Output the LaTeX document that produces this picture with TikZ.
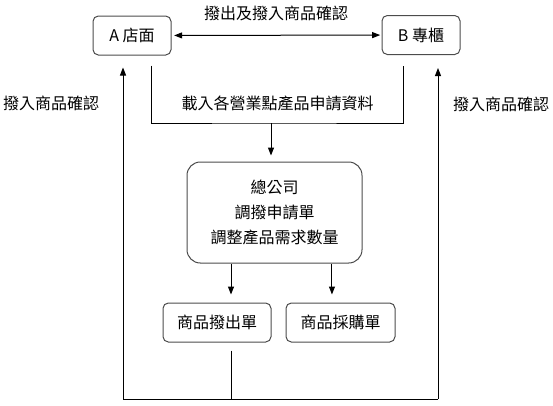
\documentclass[tikz,border=0pt]{standalone}
\usepackage{fontspec}
\setmainfont{Noto Sans CJK TC}
\usepackage{tikz}
\usetikzlibrary{arrows.meta,positioning,calc}

\begin{document}
\begin{tikzpicture}[x=0.75pt, y=-0.75pt, font=\fontsize{12}{14}\selectfont,
    box/.style={rectangle, draw=black!70, line width=0.75pt, rounded corners=4pt, minimum height=29.25pt, inner sep=0pt},
    link/.style={draw, line width=0.75pt},
    arrow/.style={link, -{Triangle[length=6pt, width=4.5pt]}},
    biarrow/.style={link, {Triangle[length=6pt, width=4.5pt]}-{Triangle[length=6pt, width=4.5pt]}}]
    \useasboundingbox (0,0) rectangle (553,405);

    \node[box, minimum width=58.5pt] (storeA) at (132,35.5) {A 店面};
    \node[box, minimum width=58.5pt] (counterB) at (421,35) {B 專櫃};
    \node[box, rounded corners=10pt, minimum width=131.25pt, minimum height=75.75pt, align=center,
          font=\fontsize{12}{18.75}\selectfont] (hq) at (274.5,212.5) {總公司\\調撥申請單\\調整產品需求數量};
    \node[box, minimum width=81pt] (outSlip) at (217,322.5) {商品撥出單};
    \node[box, minimum width=81.75pt] (buySlip) at (340.5,322.5) {商品採購單};

    % Labels
    \node (swapLbl) at (276,13) {撥出及撥入商品確認};
    \node (loadLbl) at (277.5,103) {載入各營業點產品申請資料};
    \node (inLblA) at (51,103) {撥入商品確認};
    \node (inLblB) at (501,104) {撥入商品確認};

    % Top exchange
    \draw[biarrow, shorten <=2pt, shorten >=1pt] (storeA) -- (counterB);

    % Requests to head office
    \coordinate (gather) at (271,123);
    \draw[link] ([xshift=14.25pt, yshift=-7.5pt]storeA.south) |- (gather)
        -| ([xshift=-13.5pt, yshift=-8.25pt]counterB.south);
    \draw[arrow, shorten >=4.5pt] (gather) -- (hq.north -| gather);

    % Head office to slips
    \coordinate (outTop) at ([xshift=10.5pt]outSlip.north);
    \coordinate (buyTop) at ([xshift=-6.4pt]buySlip.north);
    \draw[arrow, shorten >=6pt] (hq.south -| outTop) -- (outTop);
    \draw[arrow, shorten >=6pt] (hq.south -| buyTop) -- (buyTop);

    % Return loop
    \coordinate (baseL) at (123,399);
    \coordinate (baseR) at (438,399);
    \draw[link, shorten <=6pt] ([xshift=10.5pt]outSlip.south) -- (outTop |- baseL);
    \draw[link] (baseL) -- (baseR);
    \draw[arrow, shorten >=9pt] (baseL) -- (storeA.south -| baseL);
    \draw[arrow, shorten >=9.75pt] (baseR) -- (counterB.south -| baseR);
\end{tikzpicture}
\end{document}
